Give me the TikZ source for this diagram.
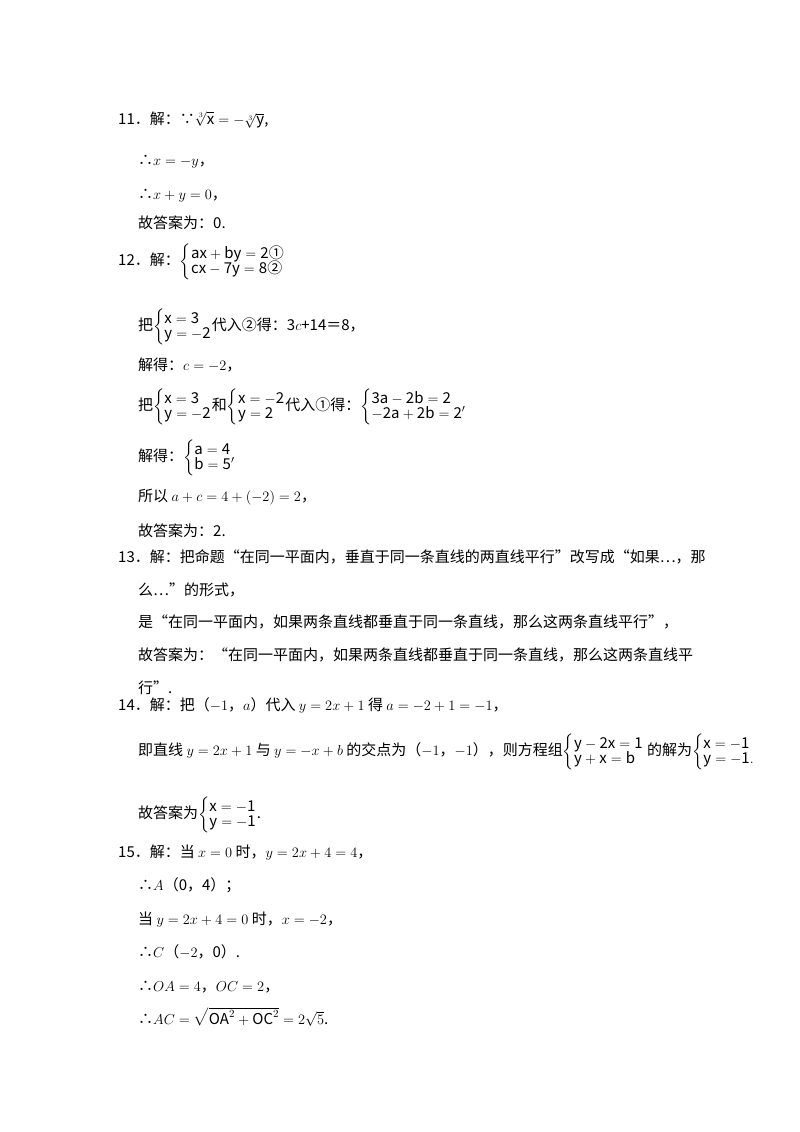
\documentclass[tikz,border=0pt]{standalone}
\usepackage{amsmath,amssymb}
\usepackage{fontspec}
\setmainfont{Noto Sans CJK SC}
\begin{document}
\begin{tikzpicture}[x=1pt,y=-1pt,
  t/.style={anchor=base west,inner sep=0pt,font=\fontsize{15}{18}\selectfont},
  s/.style={anchor=west,inner sep=0pt,font=\fontsize{15}{18}\selectfont}]
\useasboundingbox[fill=white] (0,0) rectangle (800,1132);
\newcommand{\sys}[2]{\left\{\begin{array}{@{}l@{}}\mathrm{#1}\\[-3pt]\mathrm{#2}\end{array}\right.}
\node[t] (a1) at (118,124) {11．解：∵$\sqrt[3]{\mathrm{x}}=-\sqrt[3]{\mathrm{y}}$,};
\node[t] (a2) at (138,165) {∴$x=-y$，};
\node[t] (a3) at (138,199) {∴$x+y=0$，};
\node[t] (a4) at (138,228) {故答案为：0.};
\node[s] (b1) at (118,262) {12．解：$\sys{ax+by=2\mbox{①}}{cx-7y=8\mbox{②}}$};
\node[s] (b2) at (138,327) {把$\sys{x=3}{y=-2}$代入②得：3$c$+14＝8，};
\node[t] (b3) at (138,370) {解得：$c=-2$，};
\node[s] (b4) at (138,407) {把$\sys{x=3}{y=-2}$和$\sys{x=-2}{y=2}$代入①得：$\sys{3a-2b=2}{-2a+2b=2'}$};
\node[s] (b5) at (138,458) {解得：$\sys{a=4}{b=5'}$};
\node[t] (b6) at (138,501) {所以 $a+c=4+(-2)=2$，};
\node[t] (b7) at (138,536) {故答案为：2.};
\node[t] (c1) at (118,562) {13．解：把命题“在同一平面内，垂直于同一条直线的两直线平行”改写成“如果…，那};
\node[t] (c2) at (138,595) {么…”的形式，};
\node[t] (c3) at (138,627) {是“在同一平面内，如果两条直线都垂直于同一条直线，那么这两条直线平行”，};
\node[t] (c4) at (138,660) {故答案为：“在同一平面内，如果两条直线都垂直于同一条直线，那么这两条直线平};
\node[t] (c5) at (138,693) {行”.};
\node[t] (d1) at (118,710) {14．解：把（$-1$，$a$）代入 $y=2x+1$ 得 $a=-2+1=-1$，};
\node[s] (d2) at (138,752) {即直线 $y=2x+1$ 与 $y=-x+b$ 的交点为（$-1$，$-1$），则方程组$\sys{y-2x=1}{y+x=b}$ 的解为$\sys{x=-1}{y=-1.}$};
\node[s] (d3) at (138,815) {故答案为$\sys{x=-1}{y=-1}$.};
\node[t] (e1) at (118,857) {15．解：当 $x=0$ 时，$y=2x+4=4$，};
\node[t] (e2) at (138,890) {∴$A$（0，4）；};
\node[t] (e3) at (138,924) {当 $y=2x+4=0$ 时，$x=-2$，};
\node[t] (e4) at (138,957) {∴$C$（$-2$，0）.};
\node[t] (e5) at (138,991) {∴$OA=4$，$OC=2$，};
\node[t] (e6) at (138,1024) {∴$AC=\sqrt{\mathrm{OA}^2+\mathrm{OC}^2}=2\sqrt{5}$.};
\end{tikzpicture}
\end{document}
